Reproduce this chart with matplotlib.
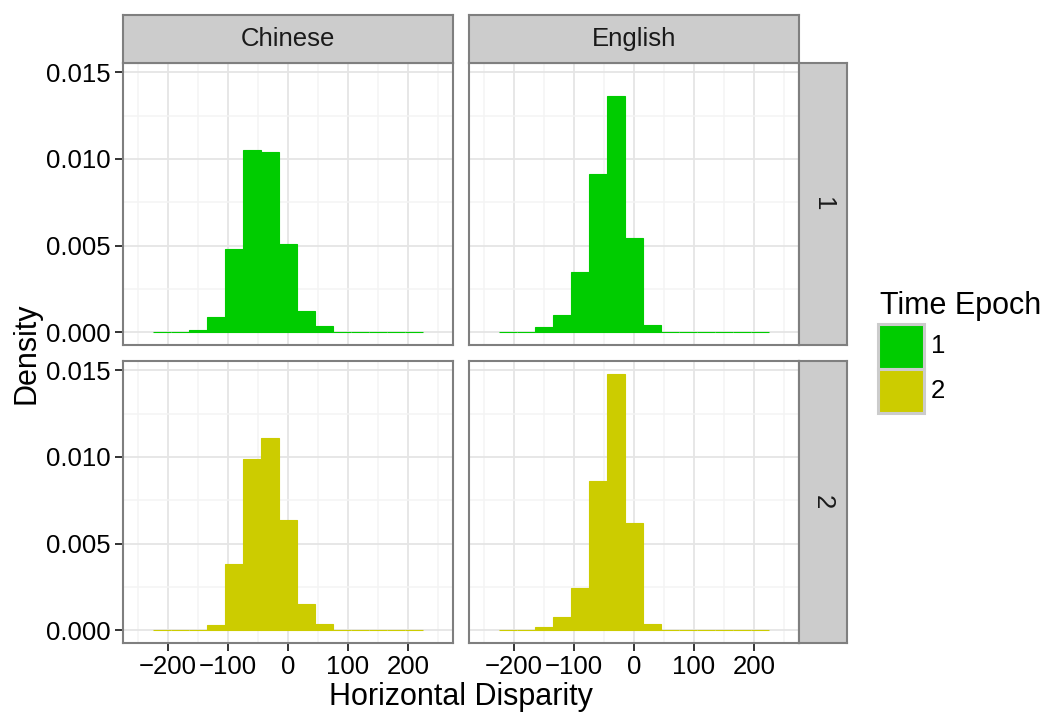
import numpy as np
import matplotlib
matplotlib.use("Agg")
import matplotlib.pyplot as plt
from matplotlib.patches import Rectangle
from matplotlib.ticker import FormatStrFormatter, MultipleLocator

plt.rcParams['font.family'] = ['Liberation Sans', 'DejaVu Sans']

# ---- data (density per 30-unit bin, bins from -225 to 225) ----
bin_edges = np.arange(-225, 226, 30)
languages = ["Chinese", "English"]
epochs = ["1", "2"]
chinese_1 = [0, 0, 0.0001, 0.0009, 0.0048, 0.0105, 0.0104, 0.0051, 0.00125, 0.00033, 0, 0, 0, 0, 0]
english_1 = [0, 0, 0.0003, 0.0010, 0.00345, 0.0091, 0.0136, 0.00544, 0.00044, 0, 0, 0, 0, 0, 0]
chinese_2 = [0, 0, 0, 0.0003, 0.0038, 0.0099, 0.0111, 0.00636, 0.0015, 0.00036, 0, 0, 0, 0, 0]
english_2 = [0, 0, 0.0002, 0.00077, 0.00243, 0.00858, 0.0148, 0.00617, 0.00036, 0, 0, 0, 0, 0, 0]
x_ticks = [-200, -100, 0, 100, 200]
y_ticks = [0.000, 0.005, 0.010, 0.015]
epoch_colors = {"1": "#00CC00", "2": "#CCCC00"}

data = {("Chinese", "1"): chinese_1, ("English", "1"): english_1,
        ("Chinese", "2"): chinese_2, ("English", "2"): english_2}

W, H = 1047, 718
fig = plt.figure(figsize=(W / 100, H / 100), dpi=100)

def fx(px):
    return px / W

def fy(py):
    return 1 - py / H

col_x = [(123, 453), (469, 799)]
row_y = [(63, 345), (361, 643)]
strip_top = 15
strip_right = 847

border_c = "#7F7F7F"
strip_fill = "#CCCCCC"
tick_fs = 18.5
title_fs = 22

for r, ep in enumerate(epochs):
    for c, lang in enumerate(languages):
        x0, x1 = col_x[c]
        y0, y1 = row_y[r]
        ax = fig.add_axes([fx(x0), fy(y1), fx(x1 - x0), (y1 - y0) / H])
        vals = data[(lang, ep)]
        centers = (bin_edges[:-1] + bin_edges[1:]) / 2
        ax.bar(centers, vals, width=30, color=epoch_colors[ep],
               edgecolor=epoch_colors[ep], linewidth=0.8, zorder=3)
        ax.set_xlim(-275, 275)
        ax.set_ylim(-0.00074, 0.01553)
        ax.set_xticks(x_ticks)
        ax.set_yticks(y_ticks)
        ax.xaxis.set_minor_locator(MultipleLocator(50))
        ax.yaxis.set_minor_locator(MultipleLocator(0.0025))
        ax.grid(which='major', color='#E5E5E5', linewidth=1.3, zorder=0)
        ax.grid(which='minor', color='#F4F4F4', linewidth=1.1, zorder=0)
        ax.set_axisbelow(True)
        ax.yaxis.set_major_formatter(FormatStrFormatter('%.3f'))
        ax.tick_params(which='minor', length=0)
        ax.tick_params(which='major', length=6, width=1.4, color='#333333',
                       labelsize=tick_fs, labelcolor='black', pad=3)
        if c != 0:
            ax.tick_params(axis='y', labelleft=False, length=0)
        if r != 1:
            ax.tick_params(axis='x', labelbottom=False, length=0)
        for s in ax.spines.values():
            s.set_color(border_c)
            s.set_linewidth(1.5)

        # top strips
        if r == 0:
            sax = fig.add_axes([fx(x0), fy(y0), fx(x1 - x0), (y0 - strip_top) / H])
            sax.set_facecolor(strip_fill)
            sax.set_xticks([]); sax.set_yticks([])
            for s in sax.spines.values():
                s.set_color(border_c); s.set_linewidth(1.5)
            sax.text(0.5, 0.5, lang, ha='center', va='center',
                     fontsize=tick_fs, color='#1A1A1A', transform=sax.transAxes)
        # right strips
        if c == 1:
            sax = fig.add_axes([fx(x1), fy(y1), fx(strip_right - x1), (y1 - y0) / H])
            sax.set_facecolor(strip_fill)
            sax.set_xticks([]); sax.set_yticks([])
            for s in sax.spines.values():
                s.set_color(border_c); s.set_linewidth(1.5)
            sax.text(0.5, 0.5, ep, ha='center', va='center', rotation=-90,
                     fontsize=tick_fs, color='#1A1A1A', transform=sax.transAxes)

# axis titles
fig.text(fx(461), fy(697), "Horizontal Disparity", ha='center', va='center',
         fontsize=title_fs, color='black')
fig.text(fx(27), fy(353), "Density", ha='center', va='center', rotation=90,
         fontsize=title_fs, color='black')

# legend
fig.text(fx(880), fy(306), "Time Epoch", ha='left', va='center',
         fontsize=title_fs, color='black')
key_x0, key_x1 = 878, 924
key_rows = [(324, 368.5), (368.5, 413)]
for (ky0, ky1), ep in zip(key_rows, epochs):
    fig.patches.append(Rectangle((fx(key_x0), fy(ky1)), fx(key_x1 - key_x0), (ky1 - ky0) / H,
                                 transform=fig.transFigure, facecolor=epoch_colors[ep],
                                 edgecolor='#CCCCCC', linewidth=2.2))
    fig.text(fx(931), fy((ky0 + ky1) / 2), ep, ha='left', va='center',
             fontsize=tick_fs, color='black')

fig.savefig("out.png", dpi=100, facecolor='white')
